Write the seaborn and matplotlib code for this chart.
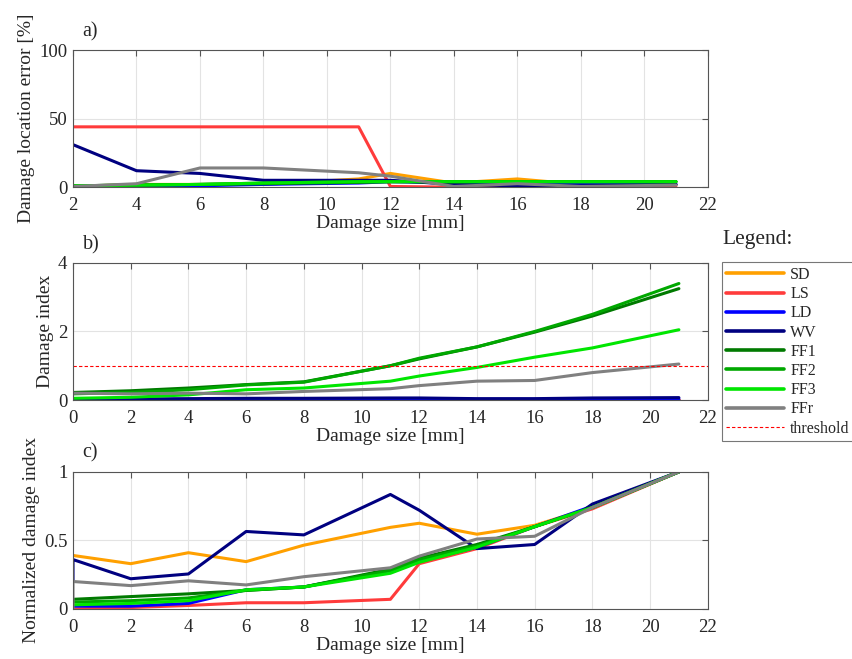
import numpy as np
import pandas as pd
import matplotlib
matplotlib.use("Agg")
import matplotlib.pyplot as plt
from matplotlib.lines import Line2D
import seaborn as sns

# ---------------- data ----------------
methods = ["SD", "LS", "LD", "WV", "FF1", "FF2", "FF3", "FFr"]
colors = ["#FFA000", "#FF3B3B", "#0000FF", "#000080", "#007A00", "#00A800", "#00E600", "#808080"]

# panel a: damage location error [%]
size_a = [2, 4, 6, 8, 11, 12, 14, 16, 18, 21]
err_SD = [0.5, 2, 2, 2, 6, 10, 3, 6, 2, 1.5]
err_LS = [44, 44, 44, 44, 44, 0.5, 0, 0.5, 0.5, 0]
err_LD = [0.5, 1, 1, 2, 3, 4, 3, 2, 2, 2]
err_WV = [31, 12, 10, 5, 5, 5, 2, 1, 1, 2]
err_FF1 = [1, 1.5, 2, 2.5, 3.5, 4, 4, 4, 4, 4]
err_FF2 = [1, 1.5, 2, 3, 4, 4, 4, 4, 4, 4]
err_FF3 = [1, 1.5, 2, 3, 4, 4, 4, 4, 4, 4]
err_FFr = [0.5, 2.5, 14, 14, 10.5, 8, 0.5, 2.5, 0.5, 1.5]

# panel b: damage index
size_b = [0, 2, 4, 6, 8, 11, 12, 14, 16, 18, 21]
di_SD = [0.01, 0.01, 0.01, 0.01, 0.01, 0.01, 0.01, 0.01, 0.01, 0.01, 0.01]
di_LS = [0.0, 0.0, 0.0, 0.0, 0.0, 0.0, 0.0, 0.0, 0.0, 0.0, 0.0]
di_LD = [0.01, 0.01, 0.01, 0.02, 0.02, 0.02, 0.02, 0.02, 0.02, 0.03, 0.03]
di_WV = [0.03, 0.03, 0.04, 0.05, 0.05, 0.06, 0.06, 0.04, 0.04, 0.06, 0.07]
di_FF1 = [0.22, 0.27, 0.35, 0.45, 0.53, 1.0, 1.2, 1.55, 1.98, 2.45, 3.25]
di_FF2 = [0.18, 0.22, 0.3, 0.44, 0.52, 1.0, 1.22, 1.55, 2.0, 2.5, 3.4]
di_FF3 = [0.05, 0.08, 0.15, 0.3, 0.35, 0.55, 0.7, 0.95, 1.25, 1.52, 2.05]
di_FFr = [0.2, 0.18, 0.2, 0.18, 0.25, 0.33, 0.42, 0.55, 0.57, 0.8, 1.05]
threshold = 1.0

# panel c: normalized damage index
size_c = [0, 0, 2, 4, 6, 8, 11, 12, 14, 16, 18, 21]
nd_SD = [0.39, 0.39, 0.33, 0.41, 0.345, 0.465, 0.595, 0.625, 0.545, 0.61, 0.74, 1.0]
nd_LS = [0.0, 0.0, 0.01, 0.025, 0.045, 0.045, 0.07, 0.33, 0.44, 0.6, 0.73, 1.0]
nd_LD = [0.02, 0.02, 0.02, 0.04, 0.14, 0.16, 0.28, 0.35, 0.45, 0.6, 0.75, 1.0]
nd_WV = [0.21, 0.36, 0.22, 0.255, 0.565, 0.54, 0.835, 0.72, 0.44, 0.47, 0.765, 1.0]
nd_FF1 = [0.07, 0.07, 0.09, 0.11, 0.135, 0.16, 0.29, 0.37, 0.47, 0.6, 0.74, 1.0]
nd_FF2 = [0.05, 0.05, 0.06, 0.08, 0.135, 0.16, 0.28, 0.36, 0.46, 0.6, 0.74, 1.0]
nd_FF3 = [0.03, 0.03, 0.04, 0.06, 0.14, 0.16, 0.26, 0.34, 0.45, 0.6, 0.74, 1.0]
nd_FFr = [0.0, 0.2, 0.17, 0.205, 0.175, 0.235, 0.3, 0.385, 0.51, 0.53, 0.74, 1.0]

# ---------------- build frames ----------------
def long_frame(x, series):
    rows = []
    for name, vals in zip(methods, series):
        for i, (xi, yi) in enumerate(zip(x, vals)):
            rows.append({"size": xi, "value": yi, "method": name, "order": i})
    return pd.DataFrame(rows)

df_a = long_frame(size_a, [err_SD, err_LS, err_LD, err_WV, err_FF1, err_FF2, err_FF3, err_FFr])
df_b = long_frame(size_b, [di_SD, di_LS, di_LD, di_WV, di_FF1, di_FF2, di_FF3, di_FFr])
df_c = long_frame(size_c, [nd_SD, nd_LS, nd_LD, nd_WV, nd_FF1, nd_FF2, nd_FF3, nd_FFr])

sns.set_style("white")
plt.rcParams["font.family"] = ["Liberation Serif", "DejaVu Serif"]
plt.rcParams["font.size"] = 12

fig = plt.figure(figsize=(8.52, 6.59), dpi=100)
L, W, H = 0.0857, 0.745, 0.208
ax_a = fig.add_axes([L, 0.716, W, H])
ax_b = fig.add_axes([L, 0.393, W, H])
ax_c = fig.add_axes([L, 0.076, W, H])

palette = dict(zip(methods, colors))
LW = 2.2

def draw(ax, df):
    for m in methods:
        sub = df[df.method == m]
        sns.lineplot(data=sub, x="size", y="value", color=palette[m], lw=LW,
                     sort=False, estimator=None, units="method", ax=ax, legend=False)

draw(ax_a, df_a)
draw(ax_b, df_b)
ax_b.axhline(threshold, color="red", lw=0.8, ls=(0, (3, 2)))
draw(ax_c, df_c)

def style(ax, xlim, xticks, ylim, yticks, ylabel, tag):
    ax.set_xlim(*xlim)
    ax.set_ylim(*ylim)
    ax.set_xticks(xticks)
    ax.set_yticks(yticks)
    ax.set_yticklabels([("%g" % t) for t in yticks])
    ax.grid(True, color="#E3E3E3", lw=0.8)
    ax.set_axisbelow(True)
    for s in ax.spines.values():
        s.set_color("#555555")
        s.set_linewidth(0.8)
    ax.tick_params(direction="in", top=True, right=True, length=4, color="#555555",
                   labelsize=13.5)
    ax.tick_params(axis="x", pad=7)
    ax.tick_params(axis="y", pad=4)
    ax.set_xlabel("Damage size [mm]", fontsize=14, labelpad=1)
    ax.set_ylabel(ylabel, fontsize=14, labelpad=3)
    ax.text(0.015, 1.065, tag, transform=ax.transAxes, fontsize=14.5, va="bottom", ha="left")

style(ax_a, (2, 22), range(2, 23, 2), (0, 100), [0, 50, 100], "Damage location error [%]", "a)")
style(ax_b, (0, 22), range(0, 23, 2), (0, 4), [0, 2, 4], "Damage index", "b)")
style(ax_c, (0, 22), range(0, 23, 2), (0, 1), [0, 0.5, 1], "Normalized damage index", "c)")

handles = [Line2D([0], [0], color=c, lw=2.6) for c in colors]
handles.append(Line2D([0], [0], color="red", lw=0.8, ls=(0, (3, 2))))
labels = methods + ["threshold"]
leg = fig.legend(handles, labels, loc="upper left", bbox_to_anchor=(0.847, 0.602),
                 borderaxespad=0, frameon=True, fancybox=False, fontsize=11.5,
                 handlelength=3.6, labelspacing=0.2, borderpad=0.3,
                 handletextpad=0.4)
leg.get_frame().set_edgecolor("#555555")
leg.get_frame().set_linewidth(0.8)
fig.text(0.848, 0.622, "Legend:", fontsize=15.5, ha="left", va="bottom")

fig.savefig("out.png", dpi=100)
